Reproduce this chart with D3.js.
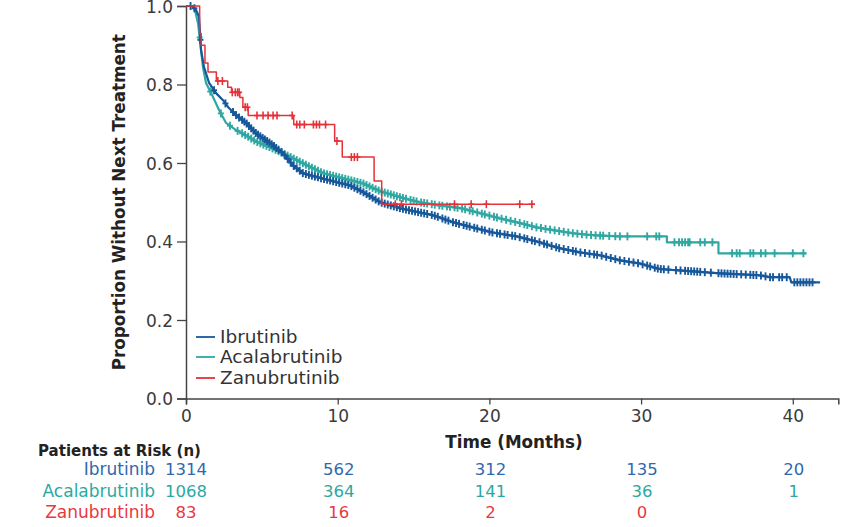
<!DOCTYPE html>
<html><head><meta charset="utf-8">
<script src="https://cdn.jsdelivr.net/npm/d3@7/dist/d3.min.js"></script>
<style>
html,body{margin:0;padding:0;background:#fff;}
svg{display:block;font-family:"DejaVu Sans","Open Sans",sans-serif;}
</style></head><body>
<svg id="chart" width="845" height="527"></svg>
<script>
// ---------- DATA ----------
const timeTicks = [0, 10, 20, 30, 40];
const yTicks = [0.0, 0.2, 0.4, 0.6, 0.8, 1.0];
const seriesNames = ["Ibrutinib", "Acalabrutinib", "Zanubrutinib"];
const riskIbrutinib = [1314, 562, 312, 135, 20];
const riskAcalabrutinib = [1068, 364, 141, 36, 1];
const riskZanubrutinib = [83, 16, 2, 0, null];

// survival curves [months, proportion]
const ibrutinibCurve = [[0,1],[0.4,1],[0.66,0.99],[0.86,0.972],[0.99,0.888],[1.19,0.844],[1.52,0.804],[1.98,0.778],[2.44,0.76],[2.83,0.74],[3.3,0.722],[3.96,0.702],[4.61,0.676],[5.08,0.663],[5.54,0.651],[6.39,0.625],[7.05,0.594],[7.71,0.574],[8.64,0.564],[9.95,0.551],[10.8,0.543],[11.67,0.526],[12.8,0.5],[14.1,0.485],[15.4,0.474],[16.3,0.467],[17.6,0.449],[18.9,0.436],[20.2,0.423],[21.8,0.413],[23.3,0.398],[24.6,0.383],[26.0,0.372],[27.3,0.365],[28.6,0.352],[29.9,0.344],[31.2,0.33],[33.4,0.324],[35.2,0.319],[37.8,0.314],[38.5,0.309],[39.8,0.309],[39.9,0.296],[41.8,0.296]];
const acalabrutinibCurve = [[0,1],[0.5,1],[0.62,0.985],[0.8,0.955],[0.99,0.888],[1.12,0.844],[1.32,0.804],[1.78,0.768],[2.18,0.735],[2.64,0.702],[3.3,0.684],[4.15,0.666],[4.6,0.655],[5.54,0.64],[6.39,0.625],[7.05,0.612],[7.98,0.594],[9.03,0.574],[10.35,0.561],[11.67,0.548],[12.8,0.528],[14.1,0.513],[15.4,0.5],[16.7,0.492],[18.1,0.485],[19.4,0.472],[20.7,0.459],[21.8,0.449],[23.1,0.436],[24.2,0.429],[25.5,0.421],[26.8,0.416],[28.6,0.413],[31.7,0.413],[31.7,0.398],[35.1,0.398],[35.1,0.37],[40.9,0.37]];
const zanubrutinibCurve = [[0,1],[0.9,0.93],[1.0,0.9],[1.25,0.855],[1.45,0.832],[2.0,0.809],[2.75,0.793],[3.0,0.78],[3.55,0.767],[3.75,0.742],[4.1,0.721],[7.1,0.698],[9.8,0.656],[10.3,0.615],[12.4,0.554],[12.9,0.495],[23.0,0.495]];

// censoring times (months)
const ibrutinibCensor = [0.3,0.55,0.95,1.85,2.6,3.1,3.3,3.5,3.7,3.85,4.0,4.15,4.3,4.45,4.6,4.75,4.9,5.05,5.2,5.35,5.5,5.65,5.8,5.95,6.1,6.3,6.5,6.7,6.9,7.1,7.3,7.5,7.7,7.9,8.1,8.3,8.5,8.7,8.9,9.1,9.3,9.5,9.7,9.9,10.1,10.3,10.5,10.7,10.9,11.1,11.3,11.5,11.7,11.9,12.1,12.3,12.5,12.7,12.9,13.1,13.3,13.5,13.7,13.9,14.1,14.3,14.5,14.7,14.9,15.1,15.3,15.5,15.7,15.9,16.2,16.4,16.6,16.9,17.1,17.3,17.6,17.8,18.0,18.3,18.5,18.7,19.0,19.2,19.5,19.7,20.0,20.2,20.5,20.7,21.0,21.2,21.5,21.7,22.0,22.3,22.5,22.8,23.0,23.3,23.6,23.8,24.1,24.4,24.6,24.9,25.2,25.5,25.7,26.0,26.3,26.6,26.9,27.1,27.4,27.7,28.0,28.3,28.6,28.9,29.2,29.5,29.8,30.1,30.4,30.6,30.9,31.1,31.3,31.5,31.8,32.3,32.6,32.9,33.1,33.3,33.5,33.7,33.9,34.2,34.6,35.1,35.3,35.5,35.7,35.9,36.1,36.3,36.6,36.9,37.2,37.4,37.6,37.9,38.2,38.5,38.7,39.1,39.3,39.6,40.1,40.3,40.5,40.7,40.9,41.1,41.3];
const acalabrutinibCensor = [0.9,1.6,2.3,2.9,3.4,3.7,3.9,4.1,4.3,4.5,4.7,4.9,5.1,5.3,5.5,5.7,5.9,6.1,6.3,6.5,6.7,6.9,7.1,7.3,7.5,7.7,7.9,8.1,8.3,8.5,8.7,8.9,9.1,9.3,9.5,9.7,9.9,10.1,10.3,10.5,10.7,10.9,11.1,11.3,11.5,11.7,11.9,12.1,12.3,12.5,12.7,12.9,13.1,13.3,13.5,13.7,13.9,14.1,14.3,14.5,14.8,15.0,15.2,15.5,15.7,15.9,16.2,16.4,16.7,16.9,17.2,17.4,17.7,17.9,18.2,18.4,18.7,18.9,19.2,19.5,19.7,20.0,20.3,20.5,20.8,21.1,21.4,21.7,22.0,22.3,22.5,22.8,23.1,23.4,23.7,24.0,24.3,24.6,24.9,25.2,25.5,25.8,26.1,26.4,26.7,27.0,27.3,27.5,27.9,28.3,28.6,29.1,30.4,31.0,31.2,32.2,32.5,32.7,32.9,33.1,33.2,33.9,34.2,34.7,36.0,36.3,36.5,37.2,37.4,37.9,38.2,38.8,40.0,40.7];
const zanubrutinibCensor = [2.1,2.4,3.05,3.25,3.4,3.5,3.9,4.05,4.68,5.08,5.41,5.74,6.0,7.0,7.3,7.5,7.8,8.4,8.6,8.8,9.2,9.95,10.9,11.1,11.3,13.8,14.2,17.7,18.8,19.8,22.0,22.8];

// ---------- STYLE ----------
const colors = {Ibrutinib:"#16589a", Acalabrutinib:"#2fa8a3", Zanubrutinib:"#e5323a"};
const textColors = {Ibrutinib:"#2f69ad", Acalabrutinib:"#2aa9a2", Zanubrutinib:"#e8383f"};
const axisColor = "#444";
const font = "'DejaVu Sans', sans-serif";

const svg = d3.select("#chart");
const x = d3.scaleLinear().domain([0, 43]).range([186, 838.3]);
const y = d3.scaleLinear().domain([0, 1]).range([398.5, 6]);

// axes
const xAxis = svg.append("g").attr("transform", `translate(0,${y(0)})`)
  .call(d3.axisBottom(x).tickValues(timeTicks).tickSize(6).tickPadding(5).tickFormat(d3.format("d")));
const yAxis = svg.append("g").attr("transform", `translate(${x(0)},0)`)
  .call(d3.axisLeft(y).tickValues(yTicks).tickSize(9).tickPadding(4).tickFormat(d3.format(".1f")));
[xAxis, yAxis].forEach(g => {
  g.select(".domain").attr("stroke", axisColor).attr("stroke-width", 1.5);
  g.selectAll(".tick line").attr("stroke", axisColor).attr("stroke-width", 1.3);
  g.selectAll(".tick text").attr("fill", "#3a3a3a").style("font-size", "17px").style("font-family", font);
});
yAxis.selectAll(".tick text").attr("dy", "0.36em");

// axis titles
svg.append("text").attr("transform", `translate(125,${y(0.5)}) rotate(-90)`)
  .attr("text-anchor", "middle").attr("font-weight", 700).attr("font-size", 16.8).attr("fill", "#222")
  .text("Proportion Without Next Treatment");
svg.append("text").attr("x", 514).attr("y", 448).attr("text-anchor", "middle")
  .attr("font-weight", 700).attr("font-size", 16.8).attr("fill", "#222").text("Time (Months)");

// curves
function valueAt(curve, t, step) {
  let i = 0;
  while (i < curve.length - 1 && curve[i + 1][0] <= t) i++;
  if (step || i === curve.length - 1) return curve[i][1];
  const a = curve[i], b = curve[i + 1];
  if (b[0] === a[0]) return b[1];
  return a[1] + (b[1] - a[1]) * (t - a[0]) / (b[0] - a[0]);
}
const series = [
  {name:"Acalabrutinib", curve:acalabrutinibCurve, censor:acalabrutinibCensor, step:false},
  {name:"Ibrutinib", curve:ibrutinibCurve, censor:ibrutinibCensor, step:false},
  {name:"Zanubrutinib", curve:zanubrutinibCurve, censor:zanubrutinibCensor, step:true}
];
series.forEach(s => {
  const line = d3.line().x(d => x(d[0])).y(d => y(d[1]))
    .curve(s.step ? d3.curveStepAfter : d3.curveLinear);
  svg.append("path").datum(s.curve).attr("d", line).attr("fill", "none")
    .attr("stroke", colors[s.name]).attr("stroke-width", s.step ? 1.5 : 2.2)
    .attr("stroke-linejoin", "round");
  const g = svg.append("g").attr("stroke", colors[s.name]).attr("stroke-width", s.step ? 1.6 : 1.9);
  s.censor.forEach(t => {
    const cx = x(t), cy = y(valueAt(s.curve, t, s.step));
    g.append("line").attr("x1", cx).attr("x2", cx).attr("y1", cy - 4).attr("y2", cy + 4);
    g.append("line").attr("x1", cx - 3).attr("x2", cx + 3).attr("y1", cy).attr("y2", cy);
  });
});

// legend
const legendY = [337, 357, 378];
seriesNames.forEach((n, i) => {
  svg.append("line").attr("x1", 196).attr("x2", 215).attr("y1", legendY[i]).attr("y2", legendY[i])
    .attr("stroke", colors[n]).attr("stroke-width", 1.8);
  svg.append("text").attr("x", 220).attr("y", legendY[i]).attr("dy", "0.35em")
    .attr("font-size", 18.5).attr("fill", "#333").text(n);
});

// patients at risk table
svg.append("text").attr("x", 38).attr("y", 456).attr("font-weight", 700).attr("font-size", 15)
  .attr("fill", "#222").text("Patients at Risk (n)");
const riskRows = [riskIbrutinib, riskAcalabrutinib, riskZanubrutinib];
const rowY = [475, 497, 518];
seriesNames.forEach((n, i) => {
  svg.append("text").attr("x", 155).attr("y", rowY[i]).attr("text-anchor", "end")
    .attr("font-size", 17).attr("fill", textColors[n]).text(n);
  riskRows[i].forEach((v, j) => {
    if (v === null) return;
    svg.append("text").attr("x", x(timeTicks[j]) + (j === 0 ? 0 : 1)).attr("y", rowY[i])
      .attr("text-anchor", "middle").attr("font-size", 16.5).attr("fill", textColors[n]).text(v);
  });
});
</script>
</body></html>
